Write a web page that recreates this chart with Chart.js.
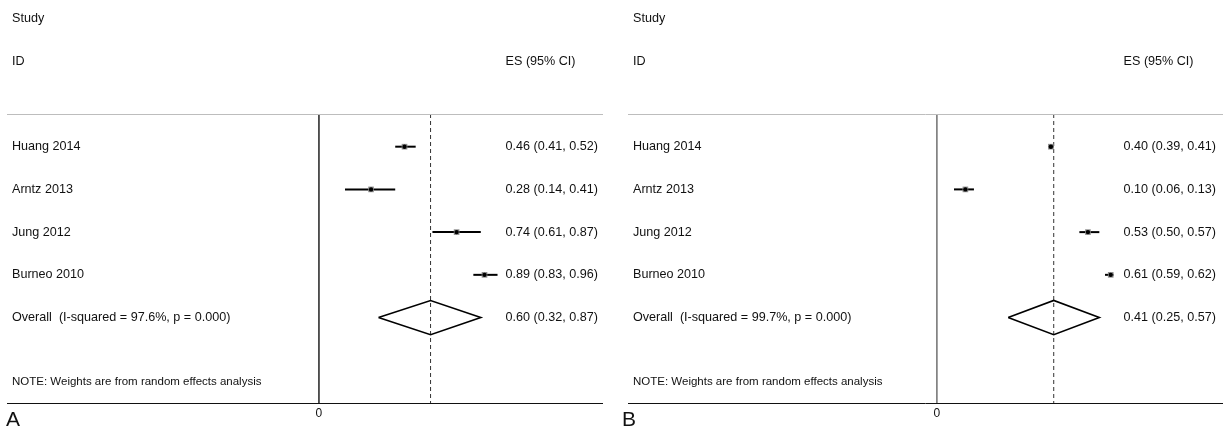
<!DOCTYPE html>
<html>
<head>
<meta charset="utf-8">
<script src="https://cdn.jsdelivr.net/npm/chart.js@4/dist/chart.umd.min.js"></script>
<style>
  html, body { margin: 0; padding: 0; background: #fff; }
  #wrap { position: relative; width: 1223px; height: 427px; overflow: hidden; }
  .panel { position: absolute; top: 0; height: 427px; }
</style>
</head>
<body>
<div id="wrap">
  <div class="panel" style="left:0;width:611px"><canvas id="panelA" width="611" height="427"></canvas></div>
  <div class="panel" style="left:611px;width:612px"><canvas id="panelB" width="612" height="427"></canvas></div>
</div>
<script>
// Studies pooled in both meta-analyses
const studies = ['Huang 2014', 'Arntz 2013', 'Jung 2012', 'Burneo 2010'];

// Panel A: effect sizes with 95% CI
const esA = [0.46, 0.28, 0.74, 0.89];
const loA = [0.41, 0.14, 0.61, 0.83];
const hiA = [0.52, 0.41, 0.87, 0.96];
const overallA = [0.60, 0.32, 0.87];   // estimate, lower, upper
const i2A = '97.6%';

// Panel B: effect sizes with 95% CI
const esB = [0.40, 0.10, 0.53, 0.61];
const loB = [0.39, 0.06, 0.50, 0.59];
const hiB = [0.41, 0.13, 0.57, 0.62];
const overallB = [0.41, 0.25, 0.57];
const i2B = '99.7%';

const xTicks = [0];

const FONT = '"Liberation Sans", Arial, Helvetica, sans-serif';
const fmt = v => v.toFixed(2);

// Text columns, header, reference line and axis drawn with the chart's scales
const forestText = {
  id: 'forestText',
  afterDraw(chart, args, o) {
    const { ctx, chartArea: ca } = chart;
    const xs = chart.scales.x, ys = chart.scales.y;
    ctx.save();
    // top rule under the header
    ctx.strokeStyle = '#bdbdbd';
    ctx.lineWidth = 1;
    ctx.beginPath();
    ctx.moveTo(ca.left, Math.round(ys.getPixelForValue(ys.min)) + 0.5);
    ctx.lineTo(ca.right, Math.round(ys.getPixelForValue(ys.min)) + 0.5);
    ctx.stroke();
    // x axis line
    const yb = Math.round(ys.getPixelForValue(ys.max)) + 0.5;
    ctx.strokeStyle = '#111';
    ctx.beginPath();
    ctx.moveTo(ca.left, yb);
    ctx.lineTo(ca.right, yb);
    ctx.stroke();

    ctx.fillStyle = '#111';
    ctx.font = '12px ' + FONT;
    ctx.textAlign = 'center';
    ctx.textBaseline = 'middle';
    xTicks.forEach(t => ctx.fillText(String(t), xs.getPixelForValue(t), yb + 10));

    const nameX = ca.left + 5;
    const numRight = ca.left + o.numRight;
    ctx.font = '12.6px ' + FONT;
    ctx.textBaseline = 'middle';
    ctx.textAlign = 'left';
    ctx.fillText('Study', nameX, ys.getPixelForValue(-2));
    ctx.fillText('ID', nameX, ys.getPixelForValue(-1));

    const sample = fmt(o.es[0]) + ' (' + fmt(o.lo[0]) + ', ' + fmt(o.hi[0]) + ')';
    const numLeft = numRight - ctx.measureText(sample).width;
    ctx.fillText('ES (95% CI)', numLeft, ys.getPixelForValue(-1));

    studies.forEach((s, i) => {
      const y = ys.getPixelForValue(i + 1);
      ctx.textAlign = 'left';
      ctx.fillText(s, nameX, y);
      ctx.textAlign = 'right';
      ctx.fillText(fmt(o.es[i]) + ' (' + fmt(o.lo[i]) + ', ' + fmt(o.hi[i]) + ')', numRight, y);
    });
    const yo = ys.getPixelForValue(studies.length + 1);
    ctx.textAlign = 'left';
    ctx.fillText('Overall  (I-squared = ' + o.i2 + ', p = 0.000)', nameX, yo);
    ctx.textAlign = 'right';
    ctx.fillText(fmt(o.overall[0]) + ' (' + fmt(o.overall[1]) + ', ' + fmt(o.overall[2]) + ')', numRight, yo);

    ctx.textAlign = 'left';
    ctx.font = '11.5px ' + FONT;
    ctx.fillText('NOTE: Weights are from random effects analysis', nameX, ys.getPixelForValue(studies.length + 2.5));

    ctx.font = '21px ' + FONT;
    ctx.textBaseline = 'alphabetic';
    ctx.fillText(o.letter, ca.left + o.letterDx, yb + 22);
    ctx.restore();
  }
};

function buildForest(canvasId, es, lo, hi, overall, i2, letter, xRange, pad, numRight, letterDx, zeroColor) {
  const yMin = 0.235, yMax = 7;
  const nOverall = studies.length + 1;
  const datasets = [];
  // null line at zero
  datasets.push({ order: 4, data: [{ x: 0, y: yMin }, { x: 0, y: yMax }], borderColor: zeroColor, borderWidth: 1.4, showLine: true, pointRadius: 0 });
  // dashed line at the pooled estimate
  datasets.push({ order: 4, data: [{ x: overall[0], y: yMin }, { x: overall[0], y: yMax }], borderColor: '#333', borderWidth: 1, borderDash: [4, 3], showLine: true, pointRadius: 0 });
  // confidence intervals
  studies.forEach((s, i) => {
    datasets.push({ order: 3, data: [{ x: lo[i], y: i + 1 }, { x: hi[i], y: i + 1 }], borderColor: '#000', borderWidth: 2, showLine: true, pointRadius: 0 });
  });
  // weight boxes and point estimates
  datasets.push({ order: 2, data: es.map((v, i) => ({ x: v, y: i + 1 })), pointStyle: 'rect', pointRadius: 4, backgroundColor: '#8f8f8f', borderColor: '#8f8f8f', borderWidth: 0, showLine: false });
  datasets.push({ order: 1, data: es.map((v, i) => ({ x: v, y: i + 1 })), pointStyle: 'circle', pointRadius: 2.2, backgroundColor: '#000', borderColor: '#000', borderWidth: 0, showLine: false });
  // pooled-estimate diamond
  const h = 0.4;
  datasets.push({
    order: 3,
    data: [
      { x: overall[1], y: nOverall }, { x: overall[0], y: nOverall - h },
      { x: overall[2], y: nOverall }, { x: overall[0], y: nOverall + h },
      { x: overall[1], y: nOverall }
    ],
    borderColor: '#000', borderWidth: 1.6, showLine: true, pointRadius: 0, tension: 0
  });

  return new Chart(document.getElementById(canvasId), {
    type: 'scatter',
    data: { datasets: datasets.map(d => Object.assign({ clip: false }, d)) },
    options: {
      responsive: false,
      animation: false,
      devicePixelRatio: 1,
      layout: { padding: pad, autoPadding: false },
      events: [],
      scales: {
        x: { type: 'linear', min: xRange[0], max: xRange[1], display: false },
        y: { type: 'linear', min: yMin, max: yMax, reverse: true, display: false }
      },
      plugins: {
        legend: { display: false },
        tooltip: { enabled: false },
        forestText: { es, lo, hi, overall, i2, letter, numRight, letterDx }
      }
    },
    plugins: [forestText]
  });
}

buildForest('panelA', esA, loA, hiA, overallA, i2A, 'A', [-1.677, 1.527],
  { left: 7, right: 8, top: 114, bottom: 24 }, 591, -1, '#111');
buildForest('panelB', esB, loB, hiB, overallB, i2B, 'B', [-1.084, 1.004],
  { left: 17, right: 0, top: 114, bottom: 24 }, 588, -6, '#666');
</script>
</body>
</html>
